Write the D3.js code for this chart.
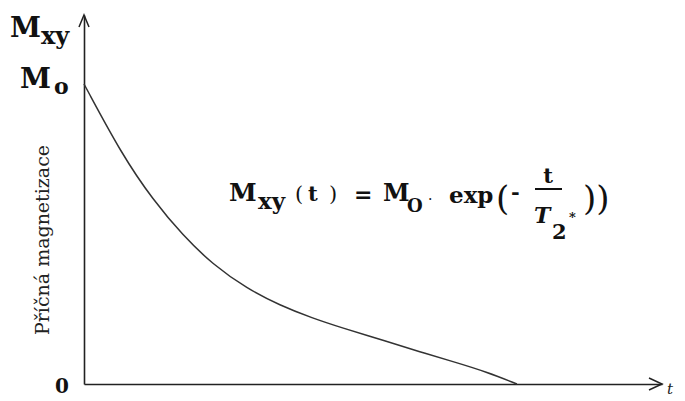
<!DOCTYPE html>
<html>
<head>
<meta charset="utf-8">
<script src="https://cdn.jsdelivr.net/npm/d3@7"></script>
<style>
  html, body { margin: 0; padding: 0; background: #fff; }
  svg { display: block; }
  .lbl { font-family: "DejaVu Serif", "Liberation Serif", serif; font-weight: bold; fill: #111; }
</style>
</head>
<body>
<script>
// Transverse magnetisation decay M_xy(t) (free induction decay with T2*)
const timeValues = [0, 6.7, 11.9, 17.1, 22.3, 28.2, 33.9, 39.6, 44.3, 52.4, 58.1, 63.8, 69.7, 74.9];
const mxyValues  = [1, 0.76, 0.615, 0.495, 0.398, 0.318, 0.262, 0.219, 0.189, 0.142, 0.107, 0.075, 0.040, 0];
const xDomain = [0, 100];
const yDomain = [0, 1.23];
const yAxisLabel = "Příčná magnetizace";

const W = 685, H = 401;
const svg = d3.select("body").append("svg").attr("width", W).attr("height", H);

const x = d3.scaleLinear().domain(xDomain).range([84, 662]);
const y = d3.scaleLinear().domain(yDomain).range([384, 15]);

// axes: bare domain lines, no ticks
const gx = svg.append("g").attr("transform", `translate(0,${y(0)})`)
  .call(d3.axisBottom(x).tickValues([]).tickSizeOuter(0));
const gy = svg.append("g").attr("transform", `translate(${x(0)},0)`)
  .call(d3.axisLeft(y).tickValues([]).tickSizeOuter(0));
[gx, gy].forEach(g => g.select(".domain").attr("stroke", "#222").attr("stroke-width", 1.6));

// arrow heads
const ax = x(xDomain[1]), ay = y(0);
svg.append("path")
  .attr("d", `M${ax - 13},${ay - 6}L${ax},${ay}L${ax - 13},${ay + 6}`)
  .attr("fill", "none").attr("stroke", "#222").attr("stroke-width", 1.5);
const tx = x(0), ty = y(yDomain[1]);
svg.append("path")
  .attr("d", `M${tx - 5},${ty + 12}L${tx},${ty}L${tx + 5},${ty + 12}`)
  .attr("fill", "none").attr("stroke", "#222").attr("stroke-width", 1.5);

// decay curve
const line = d3.line()
  .x((d, i) => x(timeValues[i]))
  .y(d => y(d))
  .curve(d3.curveBasis);
svg.append("path")
  .datum(mxyValues)
  .attr("d", line)
  .attr("fill", "none")
  .attr("stroke", "#333")
  .attr("stroke-width", 1.5);

// axis name M_xy
const mxy = svg.append("text").attr("class", "lbl").attr("x", 10).attr("y", 37).attr("font-size", 28);
mxy.append("tspan").text("M");
mxy.append("tspan").attr("dy", 7).attr("font-size", 24).text("xy");

// M0 level
const m0 = svg.append("text").attr("class", "lbl").attr("x", 20).attr("y", y(1) + 4).attr("font-size", 28);
m0.append("tspan").text("M");
m0.append("tspan").attr("dy", 6).attr("dx", 3).attr("font-size", 22).text("o");

// zero
svg.append("text").attr("class", "lbl").attr("x", 55).attr("y", 393).attr("font-size", 20).text("0");

// time axis name
svg.append("text").attr("x", 667).attr("y", 394)
  .attr("font-family", "DejaVu Serif, serif").attr("font-style", "italic")
  .attr("font-size", 15).attr("fill", "#222").text("t");

// vertical axis title
svg.append("text")
  .attr("transform", `translate(49,${y(0.48)}) rotate(-90)`)
  .attr("text-anchor", "middle")
  .attr("font-family", "DejaVu Serif, serif")
  .attr("font-size", 19).attr("fill", "#222")
  .text(yAxisLabel);

// formula  M_xy(t) = M_0 · exp(- t / T2*))
const f = svg.append("g");
const put = (txt, px, py, size, st = {}) => {
  const t = f.append("text").attr("class", "lbl").attr("x", px).attr("y", py)
    .style("font-size", size + "px").text(txt);
  Object.entries(st).forEach(([k, v]) => t.style(k, v));
  return t;
};
const thin = { "font-weight": "normal" };
put("M", 229, 201, 25);
put("xy", 258, 209, 23);
put("(", 295, 201, 21, thin);
put("t", 308, 201, 21);
put(")", 329, 201, 21, thin);
put("=", 354, 202, 22);
put("M", 383, 201, 24);
put("O", 407, 212, 18);
put("·", 428, 204, 14, thin);
put("exp", 449, 203, 23);
put("(", 496, 210, 34, thin);
put("-", 511, 199, 21);
put("t", 548, 183, 21, { "text-anchor": "middle" });
f.append("line").attr("x1", 535).attr("x2", 562).attr("y1", 189).attr("y2", 189)
  .attr("stroke", "#111").attr("stroke-width", 2);
put("T", 534, 223, 22, { "font-style": "italic" });
put("2", 552, 239, 21);
put("*", 569, 222, 13);
put("))", 583, 210, 34, thin);
</script>
</body>
</html>
